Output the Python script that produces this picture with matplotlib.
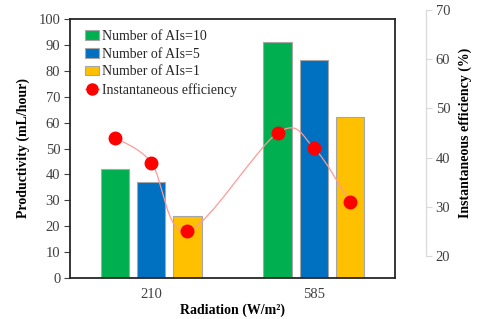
import numpy as np
import matplotlib.pyplot as plt
from matplotlib.path import Path
from matplotlib.patches import PathPatch

plt.rcParams['font.family'] = ['Liberation Serif', 'DejaVu Serif']

radiation = ['210', '585']
series_names = ['Number of AIs=10', 'Number of AIs=5', 'Number of AIs=1']
productivity = [[42, 91],   # AIs=10
                [37, 84],   # AIs=5
                [24, 62]]   # AIs=1
efficiency = [[44, 45],     # AIs=10
              [39, 42],     # AIs=5
              [25, 31]]     # AIs=1
colors = ['#00b050', '#0070c0', '#ffc000']

W, H = 480, 319
fig = plt.figure(figsize=(W / 100, H / 100), dpi=100)

# main axes (pixel box 70..395 x 19..278)
ax = fig.add_axes([70 / W, (H - 278) / H, 325 / W, 259 / H])
# secondary axes has its own vertical extent (y 10..256)
ax2 = fig.add_axes([70 / W, (H - 256) / H, 325 / W, 246 / H])
ax2.patch.set_visible(False)

x = np.arange(len(radiation))
width = 0.175
step = 0.222
offsets = [-step, 0, step]

for i in range(3):
    ax.bar(x + offsets[i], productivity[i], width, color=colors[i],
           edgecolor='#a6a6a6', linewidth=0.8, label=series_names[i], zorder=2)

ax.set_xlim(-0.5, 1.5)
ax.set_ylim(0, 100)
ax.set_yticks(range(0, 101, 10))
ax.set_xticks(x)
ax.set_xticklabels(radiation)
ax.tick_params(axis='x', length=0, labelsize=10.5, pad=7, colors='#404040')
ax.tick_params(axis='y', length=4, width=0.8, labelsize=10.5, colors='#404040',
               direction='out', pad=3)
for s in ax.spines.values():
    s.set_color('#262626')
    s.set_linewidth(1.3)
ax.set_ylabel('Productivity (mL/hour)', fontsize=10, fontweight='bold', labelpad=6)
ax.set_xlabel('Radiation (W/m²)', fontsize=10, fontweight='bold', labelpad=2)

# efficiency points ordered by x position
ex, ey = [], []
for g in range(len(radiation)):
    for i in range(3):
        ex.append(x[g] + offsets[i])
        ey.append(efficiency[i][g])
ex = np.array(ex)
ey = np.array(ey)

# smoothed line (Catmull-Rom as Bezier segments) drawn with a path
verts = [(ex[0], ey[0])]
codes = [Path.MOVETO]
n = len(ex)
for k in range(n - 1):
    p0 = np.array([ex[max(k - 1, 0)], ey[max(k - 1, 0)]])
    p1 = np.array([ex[k], ey[k]])
    p2 = np.array([ex[k + 1], ey[k + 1]])
    p3 = np.array([ex[min(k + 2, n - 1)], ey[min(k + 2, n - 1)]])
    c1 = p1 + (p2 - p0) / 6
    c2 = p2 - (p3 - p1) / 6
    verts += [tuple(c1), tuple(c2), tuple(p2)]
    codes += [Path.CURVE4] * 3
ax2.add_patch(PathPatch(Path(verts, codes), facecolor='none',
                        edgecolor='#ff9999', linewidth=0.9, zorder=3))
ax2.plot(ex, ey, linestyle='none', marker='o', markersize=9, color='#ff0000', zorder=4)

ax2.set_xlim(-0.5, 1.5)
ax2.set_ylim(20, 70)
ax2.set_yticks(range(20, 71, 10))
ax2.set_xticks([])
for side in ['left', 'top', 'bottom']:
    ax2.spines[side].set_visible(False)
ax2.spines['right'].set_position(('outward', 22.3))
ax2.spines['right'].set_color('#d9d9d9')
ax2.spines['right'].set_linewidth(0.9)
ax2.yaxis.tick_right()
ax2.yaxis.set_label_position('right')
ax2.tick_params(axis='y', length=4, width=0.8, color='#d9d9d9', labelcolor='#404040',
                labelsize=10.5, pad=3)
ax2.set_ylabel('Instantaneous efficiency (%)', fontsize=10, fontweight='bold', labelpad=6)

# legend
h1, l1 = ax.get_legend_handles_labels()
line_handle = plt.Line2D([], [], color='#ff9999', linewidth=0.9, marker='o',
                         markerfacecolor='#ff0000', markeredgecolor='#ff0000', markersize=8)
leg = ax.legend(h1 + [line_handle], l1 + ['Instantaneous efficiency'],
                loc='upper left', bbox_to_anchor=(0.03, 0.98), frameon=False,
                fontsize=10, handlelength=1.0, handleheight=0.7, handletextpad=0.2,
                labelspacing=0.35, borderaxespad=0)
for t in leg.get_texts():
    t.set_color('#262626')

fig.savefig('out.png', dpi=100)
